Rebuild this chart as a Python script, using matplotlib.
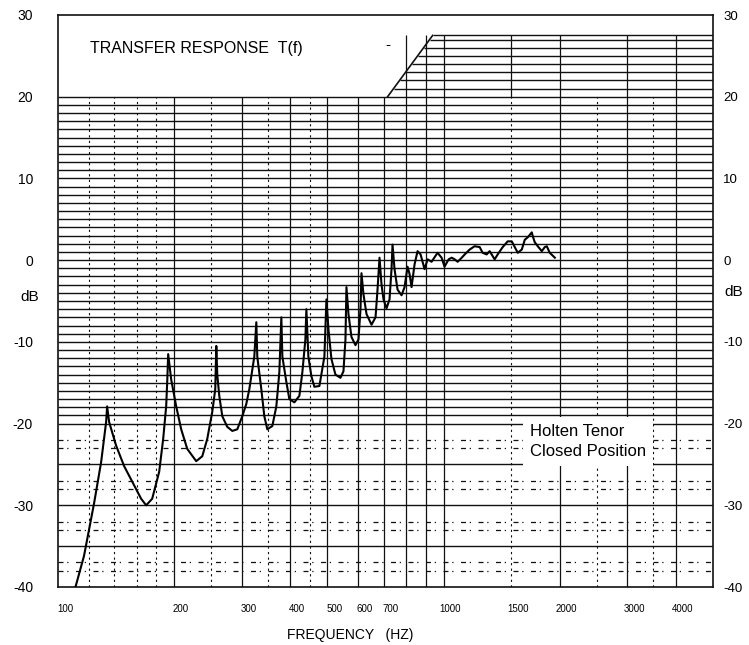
import numpy as np
import matplotlib
matplotlib.use("Agg")
import matplotlib.pyplot as plt
import matplotlib.transforms as mtransforms

plt.rcParams["font.family"] = ["Liberation Sans", "DejaVu Sans"]

# curve (Hz, dB)
freq = [111, 116.8, 124.0, 129.4, 133.3, 134.1, 135.7, 141.5, 148.4, 155.7, 164.3, 169.3,
        175.5, 183.0, 187.4, 190.8, 192.1, 193.1,
        196.6, 202.6, 208.7, 216.4, 228.3, 236.7, 243.8, 251.2, 255.8, 257.4,
        258.9, 262.0, 266.8, 274.8, 283.2, 291.8, 300.6, 307.9, 313.5, 323.0, 326.9,
        328.8, 336.8, 342.9, 349.1, 359.7, 368.4, 375.1, 379.6,
        381.9, 391.1, 398.2, 410.3, 422.8, 430.4, 438.2, 440.8,
        446.1, 454.2, 462.4, 476.5, 490.9, 496.9,
        503.0, 512.0, 524.3, 540.3, 550.1, 556.7, 560.0,
        566.8, 577.0, 591.0, 601.7, 609.0, 612.6,
        620.0, 631.3, 650.4, 666.2, 674.2, 682.3,
        690.5, 698.8, 711.4, 724.3, 733.0, 737.4,
        746.3, 759.8, 778.2, 792.3, 806.7, 816.4, 826.2, 841.2, 856.4, 871.9, 892.9,
        909.1, 931.1, 965.0, 988.5, 1006, 1031, 1050, 1069, 1088, 1115, 1135, 1169,
        1204, 1241, 1263, 1294, 1317, 1357, 1382, 1424, 1467, 1503, 1530, 1558, 1596,
        1625, 1654, 1694, 1705, 1724, 1756, 1798, 1831, 1853, 1886, 1944]
db = [-40, -36.2, -29.8, -24.7, -19.8, -17.9, -19.8, -22.7, -25.2, -27.1, -29.2, -30.0,
      -29.2, -25.9, -21.9, -17.9, -14.6, -11.5,
      -14.6, -17.9, -20.7, -23.1, -24.6, -24.0, -21.9, -18.6, -15.8, -10.5,
      -14.0, -16.6, -19.1, -20.4, -20.9, -20.7, -19.1, -17.6, -15.8, -11.8, -7.6,
      -11.8, -15.8, -19.1, -20.7, -20.3, -17.9, -13.7, -7.0,
      -11.8, -14.9, -17.0, -17.4, -16.6, -13.7, -9.7, -6.0,
      -11.8, -14.2, -15.5, -15.4, -11.8, -4.8,
      -8.5, -12.1, -14.0, -14.4, -13.6, -9.7, -3.3,
      -6.6, -9.4, -10.4, -9.7, -6.0, -1.6,
      -4.2, -6.6, -7.9, -7.0, -3.6, 0.3,
      -3.0, -4.8, -5.9, -4.8, -1.1, 1.9,
      -1.1, -3.6, -4.3, -3.3, -0.8, -1.7, -3.3, -0.5, 1.1, 0.7, -1.1,
      0.1, -0.2, 0.9, 0.3, -0.8, 0.1, 0.3, 0.1, -0.2, 0.3, 0.7, 1.3,
      1.7, 1.6, 0.9, 0.7, 1.1, 0.1, 0.7, 1.6, 2.3, 2.3, 1.6, 0.9, 1.3,
      2.5, 2.8, 3.4, 2.9, 2.2, 1.7, 1.1, 1.6, 1.7, 0.9, 0.3]

x_ticks = [100, 200, 300, 400, 500, 600, 700, 1000, 1500, 2000, 3000, 4000]
x_labels = ["100", "200", "300", "400", "500", "600", "700", "1000", "1500", "2000", "3000", "4000"]
y_ticks = [30, 20, 10, 0, -10, -20, -30, -40]
y_labels = ["30", "20", "10", "0", "-10", "-20", "-30", "-40"]

fmin, fmax = 100, 5000

fig = plt.figure(figsize=(7.49, 6.45), dpi=100)
ax = fig.add_axes([58 / 749, 58 / 645, 655 / 749, 572 / 645])
ax.set_xscale("log")
ax.set_xlim(fmin, fmax)
ax.set_ylim(-40, 30)

ink = "#111111"

# graph paper: dense 1 dB lines between -20 and 20
for lev in range(-20, 21):
    ax.hlines(lev, fmin, fmax, color=ink, lw=1.0, zorder=1)

# sparse lower region
for lev in range(-39, -20):
    if lev % 5 == 0:
        ax.hlines(lev, fmin, fmax, color=ink, lw=1.0, zorder=1)
    elif lev % 5 in (2, 3):
        ax.hlines(lev, fmin, fmax, color=ink, lw=0.9, linestyle=(0, (4, 3, 1, 6)), zorder=1)

# upper right block with the slanted edge
diag_f = [716, 937]
diag_db = [20, 27.5]
ax.plot(diag_f, diag_db, color=ink, lw=1.2, zorder=1)
for lev in range(21, 28):
    start = np.exp(np.interp(lev, diag_db, np.log(diag_f)))
    ax.hlines(lev, start, fmax, color=ink, lw=1.0, zorder=1)
ax.hlines(27.5, diag_f[1], fmax, color=ink, lw=1.0, zorder=1)

# vertical lines
major_v = [200, 300, 400, 500, 600, 700, 800, 900, 1000, 2000, 3000, 4000]
minor_v = [120, 140, 160, 180, 250, 350, 450, 1500, 2500, 3500]
for f in major_v:
    ax.vlines(f, -40, 20, color=ink, lw=0.9, zorder=1)
for f in minor_v:
    ax.vlines(f, -40, 20, color=ink, lw=0.8, linestyle=(0, (2, 3)), zorder=1)
for f in [800, 900, 1000, 1500, 2000, 3000, 4000]:
    ax.vlines(f, 20, 27.5, color=ink, lw=0.9, zorder=1)

# response curve
ax.plot(freq, db, color="black", lw=1.5, zorder=3)

for s in ax.spines.values():
    s.set_color(ink)
    s.set_linewidth(1.2)

ax.set_xticks(x_ticks)
ax.set_xticklabels(x_labels, fontsize=7)
ax.minorticks_off()
ax.set_yticks(y_ticks)
ax.set_yticklabels(y_labels, fontsize=10)
ax.tick_params(axis="x", length=0, pad=12)
ax.tick_params(axis="y", length=0, pad=18)
ax.tick_params(axis="y", labelright=True)
shift = mtransforms.ScaledTranslation(0.07, 0, fig.dpi_scale_trans)
for lab in ax.get_xticklabels():
    lab.set_transform(lab.get_transform() + shift)
back = mtransforms.ScaledTranslation(-0.15, 0, fig.dpi_scale_trans)
for tick in ax.yaxis.get_major_ticks():
    tick.label2.set_transform(tick.label2.get_transform() + back)
    tick.label2.set_fontsize(9.5)

ax.text(0.049, 0.942, "TRANSFER RESPONSE  T(f)", transform=ax.transAxes,
        fontsize=11.5, va="center")
ax.text(0.50, 0.948, "-", transform=ax.transAxes, fontsize=11, va="center")

ax.text(0.72, 0.255, "Holten Tenor\nClosed Position", transform=ax.transAxes,
        fontsize=12, linespacing=1.4, va="center", ha="left", zorder=4,
        bbox=dict(facecolor="white", edgecolor="none", pad=5))

fig.text(20 / 749, 1 - 297 / 645, "dB", fontsize=11, ha="left", va="center")
fig.text(724 / 749, 1 - 292 / 645, "dB", fontsize=11, ha="left", va="center")
fig.text(350 / 749, 1 - 635 / 645, "FREQUENCY   (HZ)", fontsize=10, ha="center", va="center")

fig.savefig("out.png", dpi=100, facecolor="white")
